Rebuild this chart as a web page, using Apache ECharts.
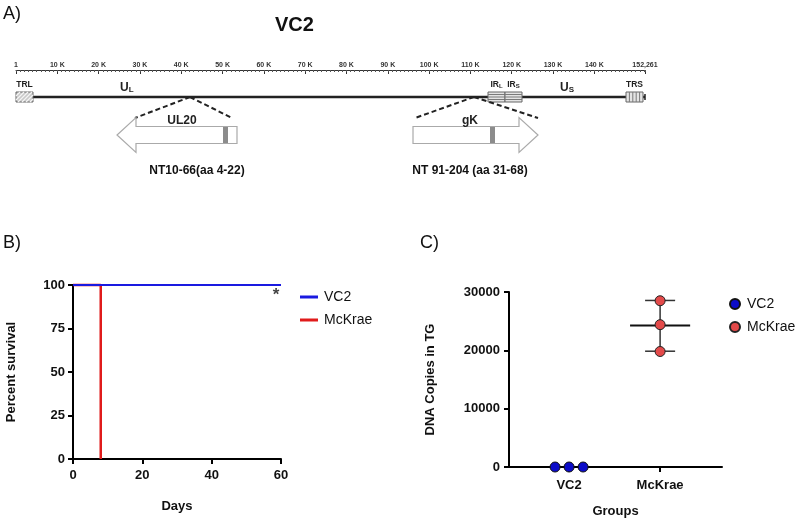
<!DOCTYPE html>
<html><head><meta charset="utf-8">
<script src="https://cdn.jsdelivr.net/npm/echarts@6/dist/echarts.min.js"></script>
<style>html,body{margin:0;padding:0;background:#fff}#c{width:800px;height:524px}</style>
</head><body><div id="c"></div>
<script>
// ---------- Panel A: genome map (positions in bp) ----------
const genomeLength = 152261;
const rulerTickValues = [1,10000,20000,30000,40000,50000,60000,70000,80000,90000,100000,110000,120000,130000,140000,152261];
const rulerTickLabels = ['1','10 K','20 K','30 K','40 K','50 K','60 K','70 K','80 K','90 K','100 K','110 K','120 K','130 K','140 K','152,261'];
const backbone = [4115, 152261];
const repeatNames = ['TRL','IRL','IRS','TRS'];
const repeatStarts = [0, 114257, 118373, 147662];
const repeatEnds = [4115, 118373, 122487, 151777];
const uniqueNames = ['UL','US'];
const uniqueLabelPos = [25200, 131700];
const geneNames = ['UL20','gK'];
const geneSites = [42120, 110868];
const geneTails = [53497, 96102];
const geneTips = [24449, 126360];
const geneZoomLeft = [28806, 96586];
const geneZoomRight = [52287, 126360];
const geneDeletionStart = [50108, 114741];
const geneDeletionEnd = [51319, 115952];
const geneLabelPos = [40183, 109900];
const deletionLabels = ['NT10-66(aa 4-22)','NT 91-204 (aa 31-68)'];
const deletionLabelPos = [43815, 109900];

// ---------- Panel B: survival ----------
const vc2Days = [0, 60];
const vc2Survival = [100, 100];
const mckraeDays = [0, 8, 8];
const mckraeSurvival = [100, 100, 0];
const sigDay = 58.6, sigPercent = 94, sigText = '*';

// ---------- Panel C: DNA copies ----------
const groups = ['VC2','McKrae'];
const vc2Copies = [0, 0, 0];
const mckraeCopies = [28500, 24400, 19800];
const mckraeMean = 24250;
const mckraeErrLow = 19850;
const mckraeErrHigh = 28550;

const F = 'Liberation Sans, Arial, Helvetica, sans-serif';
const vc2Jitter = [-0.154, 0, 0.154];

function xc(api, v){ return api.coord([v, 0])[0]; }

function renderBackbone(params, api){
  const x0 = xc(api, api.value(0)), x1 = xc(api, api.value(1));
  const y = params.coordSys.y + 27;
  return {type:'group', children:[
    {type:'line', shape:{x1:x0,y1:y,x2:x1,y2:y}, style:{stroke:'#222', lineWidth:2.5}},
    {type:'line', shape:{x1:x1,y1:y-3,x2:x1,y2:y+3}, style:{stroke:'#222', lineWidth:1.5}}
  ]};
}

function renderRepeat(params, api){
  const x0 = xc(api, api.value(0)), x1 = xc(api, api.value(1));
  const i = api.value(2);
  const name = repeatNames[i];
  const top = params.coordSys.y;
  const y0 = top + 22, y1 = top + 32, w = x1 - x0, h = y1 - y0;
  const ch = [];
  ch.push({type:'rect', shape:{x:x0,y:y0,width:w,height:h}, style:{fill:'#e4e4e4', stroke:'#666', lineWidth:1}});
  const st = {stroke:'#7a7a7a', lineWidth:1};
  if (i === 0) {
    ch[0].style.fill = '#c8c8c8';
    for (let k = -h; k < w; k += 4) {
      let ax = x0 + k, ay = y1, bx = x0 + k + h, by = y0;
      if (ax < x0) { ay = y1 - (x0 - ax); ax = x0; }
      if (bx > x1) { by = y0 + (bx - x1); bx = x1; }
      ch.push({type:'line', shape:{x1:ax,y1:ay,x2:bx,y2:by}, style:{stroke:'#f4f4f4', lineWidth:1.2}});
    }
  } else if (name.indexOf('IR') === 0) {
    for (let k = 1; k < 4; k++) ch.push({type:'line', shape:{x1:x0,y1:y0+k*h/4,x2:x1,y2:y0+k*h/4}, style:st});
  } else {
    for (let k = 1; k < 5; k++) ch.push({type:'line', shape:{x1:x0+k*w/5,y1:y0,x2:x0+k*w/5,y2:y1}, style:st});
  }
  let text, rich;
  if (name.indexOf('IR') === 0) {
    text = '{b|IR}{s|' + name.slice(2) + '}';
    rich = {b:{font:'bold 8.5px ' + F, fill:'#222'}, s:{font:'bold 6px ' + F, fill:'#222', verticalAlign:'bottom'}};
  } else {
    text = '{b|' + name + '}';
    rich = {b:{font:'bold 8.5px ' + F, fill:'#222'}};
  }
  ch.push({type:'text', style:{text:text, rich:rich, x:(x0+x1)/2, y:top+15, align:'center', verticalAlign:'middle'}});
  return {type:'group', children:ch};
}

function renderUnique(params, api){
  const x = xc(api, api.value(0));
  const name = uniqueNames[api.value(1)];
  return {type:'text', style:{text:'{b|' + name[0] + '}{s|' + name.slice(1) + '}',
    rich:{b:{font:'bold 12px ' + F, fill:'#222'}, s:{font:'bold 8px ' + F, fill:'#222', verticalAlign:'bottom'}},
    x:x, y:params.coordSys.y + 18, align:'left', verticalAlign:'middle'}};
}

function renderGene(params, api){
  const i = api.value(7);
  const top = params.coordSys.y;
  const site = xc(api, api.value(0));
  const tail = xc(api, api.value(1)), tip = xc(api, api.value(2));
  const zl = xc(api, api.value(3)), zr = xc(api, api.value(4));
  const ms = xc(api, api.value(5)), me = xc(api, api.value(6));
  const cy = top + 65, bh = 8.5, hh = 17.5;
  const dir = tip > tail ? 1 : -1;
  const hb = tip - dir * 19;
  const dash = {stroke:'#222', lineWidth:2, lineDash:[5,3]};
  return {type:'group', children:[
    {type:'line', shape:{x1:site,y1:top+27,x2:zl,y2:top+48}, style:dash},
    {type:'line', shape:{x1:site,y1:top+27,x2:zr,y2:top+48}, style:dash},
    {type:'polygon', shape:{points:[[tail,cy-bh],[hb,cy-bh],[hb,cy-hh],[tip,cy],[hb,cy+hh],[hb,cy+bh],[tail,cy+bh]]},
      style:{fill:'#fff', stroke:'#aaa', lineWidth:1.2}},
    {type:'rect', shape:{x:Math.min(ms,me), y:cy-bh+0.5, width:Math.abs(me-ms), height:2*bh-1}, style:{fill:'#8c8c8c'}},
    {type:'text', style:{text:geneNames[i], x:xc(api, geneLabelPos[i]), y:top+51, align:'center', verticalAlign:'middle', font:'bold 12px ' + F, fill:'#222'}},
    {type:'text', style:{text:deletionLabels[i], x:xc(api, deletionLabelPos[i]), y:top+101, align:'center', verticalAlign:'middle', font:'bold 12px ' + F, fill:'#111'}}
  ]};
}

function renderErr(params, api){
  const x = api.value(0);
  const pm = api.coord([x, api.value(1)]);
  const lo = api.coord([x, api.value(2)]), hi = api.coord([x, api.value(3)]);
  const mL = api.coord([x - 0.33, 0])[0], mR = api.coord([x + 0.33, 0])[0];
  const cL = api.coord([x - 0.165, 0])[0], cR = api.coord([x + 0.165, 0])[0];
  return {type:'group', children:[
    {type:'line', shape:{x1:pm[0],y1:hi[1],x2:pm[0],y2:lo[1]}, style:{stroke:'#333', lineWidth:1.5}},
    {type:'line', shape:{x1:cL,y1:hi[1],x2:cR,y2:hi[1]}, style:{stroke:'#333', lineWidth:1.5}},
    {type:'line', shape:{x1:cL,y1:lo[1],x2:cR,y2:lo[1]}, style:{stroke:'#333', lineWidth:1.5}},
    {type:'line', shape:{x1:mL,y1:pm[1],x2:mR,y2:pm[1]}, style:{stroke:'#111', lineWidth:2}}
  ]};
}

const axisBlack = {onZero:false, lineStyle:{color:'#000', width:2}};
const tickBlack = {length:5, lineStyle:{color:'#000', width:2}};
const lblBold = {fontSize:13, fontWeight:'bold', color:'#111', fontFamily:F, formatter:function(v){return String(v);}};
const nameBold = {fontSize:13, fontWeight:'bold', color:'#111', fontFamily:F};

const chart = echarts.init(document.getElementById('c'), null, {renderer:'canvas'});
chart.setOption({
  animation:false,
  backgroundColor:'#fff',
  textStyle:{fontFamily:F},
  title:[
    {text:'A)', left:3, top:5, padding:0, textStyle:{fontSize:18, fontWeight:'normal', color:'#111', fontFamily:F}},
    {text:'VC2', left:275, top:15, padding:0, textStyle:{fontSize:20, fontWeight:'bold', color:'#111', fontFamily:F}},
    {text:'B)', left:3, top:234, padding:0, textStyle:{fontSize:18, fontWeight:'normal', color:'#111', fontFamily:F}},
    {text:'C)', left:420, top:234, padding:0, textStyle:{fontSize:18, fontWeight:'normal', color:'#111', fontFamily:F}}
  ],
  legend:[
    {data:['VC2','McKrae'], left:295, top:285, orient:'vertical', icon:'rect', itemWidth:18, itemHeight:3, itemGap:9,
     textStyle:{fontSize:14, color:'#111', fontFamily:F, padding:[0,0,0,1]}},
    {data:['C-VC2','C-McKrae'], left:724, top:292, orient:'vertical', icon:'circle', itemWidth:10, itemHeight:10, itemGap:9,
     formatter:function(n){return n.replace('C-','');},
     textStyle:{fontSize:14, color:'#111', fontFamily:F, padding:[0,0,0,2]}}
  ],
  grid:[
    {left:16, top:70, width:629, height:110},
    {left:73, top:285, width:208, height:174},
    {left:509, top:292, width:213, height:175}
  ],
  xAxis:[
    {gridIndex:0, type:'value', position:'top', min:0, max:genomeLength,
     axisLine:{show:true, onZero:false, lineStyle:{color:'#333', width:1}},
     axisTick:{show:true, inside:true, length:4, customValues:rulerTickValues, lineStyle:{color:'#333', width:1}},
     axisLabel:{show:true, customValues:rulerTickValues, margin:1, fontSize:7, fontWeight:'bold', color:'#333', fontFamily:F,
       formatter:function(v){var k = rulerTickValues.indexOf(v); return k >= 0 ? rulerTickLabels[k] : '';}},
     splitLine:{show:false}},
    {gridIndex:0, type:'value', position:'top', min:0, max:genomeLength, interval:1000,
     axisLine:{show:false, onZero:false}, axisTick:{show:true, inside:true, length:2, lineStyle:{color:'#555', width:1}},
     axisLabel:{show:false}, splitLine:{show:false}},
    {gridIndex:1, type:'value', min:0, max:60, interval:20, name:'Days', nameLocation:'middle', nameGap:41, nameTextStyle:nameBold,
     axisLine:axisBlack, axisTick:tickBlack, axisLabel:Object.assign({}, lblBold, {margin:10}), splitLine:{show:false}},
    {gridIndex:2, type:'value', min:0.34, max:2.68, name:'Groups', nameLocation:'middle', nameGap:38, nameTextStyle:nameBold,
     axisLine:axisBlack, axisTick:Object.assign({customValues:[1,2]}, tickBlack),
     axisLabel:Object.assign({}, lblBold, {margin:12, customValues:[1,2], formatter:function(v){return groups[Math.round(v)-1] || '';}}),
     splitLine:{show:false}}
  ],
  yAxis:[
    {gridIndex:0, type:'value', min:0, max:1, show:false, axisLine:{onZero:false}},
    {gridIndex:1, type:'value', min:0, max:100, interval:25, name:'Percent survival', nameLocation:'middle', nameGap:55, nameTextStyle:nameBold,
     axisLine:Object.assign({show:true}, axisBlack), axisTick:Object.assign({show:true}, tickBlack), axisLabel:Object.assign({}, lblBold, {margin:8}), splitLine:{show:false}},
    {gridIndex:2, type:'value', min:0, max:30000, interval:10000, name:'DNA Copies in TG', nameLocation:'middle', nameGap:72, nameTextStyle:nameBold,
     axisLine:Object.assign({show:true}, axisBlack), axisTick:Object.assign({show:true}, tickBlack), axisLabel:Object.assign({}, lblBold, {margin:9}), splitLine:{show:false}}
  ],
  series:[
    {type:'custom', name:'backbone', xAxisIndex:0, yAxisIndex:0, clip:false, z:2, silent:true,
     data:[[backbone[0], backbone[1]]], renderItem:renderBackbone},
    {type:'custom', name:'repeats', xAxisIndex:0, yAxisIndex:0, clip:false, z:3, silent:true,
     data:repeatStarts.map(function(s,i){return [s, repeatEnds[i], i];}), renderItem:renderRepeat},
    {type:'custom', name:'unique', xAxisIndex:0, yAxisIndex:0, clip:false, z:3, silent:true,
     data:uniqueLabelPos.map(function(p,i){return [p, i];}), renderItem:renderUnique},
    {type:'custom', name:'genes', xAxisIndex:0, yAxisIndex:0, clip:false, z:3, silent:true,
     data:geneNames.map(function(n,i){return [geneSites[i], geneTails[i], geneTips[i], geneZoomLeft[i], geneZoomRight[i], geneDeletionStart[i], geneDeletionEnd[i], i];}),
     renderItem:renderGene},

    {type:'line', name:'McKrae', xAxisIndex:2, yAxisIndex:1, clip:false, symbol:'none', z:3,
     color:'#e01b1b', lineStyle:{color:'#e01b1b', width:2.5}, itemStyle:{color:'#e01b1b'},
     data:mckraeDays.map(function(d,i){return [d, mckraeSurvival[i]];})},
    {type:'line', name:'VC2', xAxisIndex:2, yAxisIndex:1, clip:false, symbol:'none', z:4,
     color:'#1a1ae0', lineStyle:{color:'#1a1ae0', width:2}, itemStyle:{color:'#1a1ae0'},
     data:vc2Days.map(function(d,i){return [d, vc2Survival[i]];})},
    {type:'scatter', name:'sig', xAxisIndex:2, yAxisIndex:1, symbolSize:0, silent:true, clip:false,
     data:[[sigDay, sigPercent]],
     label:{show:true, position:'inside', formatter:sigText, fontSize:17, fontWeight:'bold', color:'#111', fontFamily:F}},

    {type:'custom', name:'err', xAxisIndex:3, yAxisIndex:2, clip:false, z:3, silent:true,
     data:[[2, mckraeMean, mckraeErrLow, mckraeErrHigh]], renderItem:renderErr},
    {type:'scatter', name:'C-VC2', xAxisIndex:3, yAxisIndex:2, clip:false, z:5, symbolSize:10,
     itemStyle:{color:'#0b0bc8', borderColor:'#111', borderWidth:1, opacity:1},
     data:vc2Copies.map(function(v,i){return [1 + vc2Jitter[i], v];})},
    {type:'scatter', name:'C-McKrae', xAxisIndex:3, yAxisIndex:2, clip:false, z:5, symbolSize:10,
     itemStyle:{color:'#e34a4a', borderColor:'#222', borderWidth:1, opacity:1},
     data:mckraeCopies.map(function(v){return [2, v];})}
  ]
});
</script></body></html>
